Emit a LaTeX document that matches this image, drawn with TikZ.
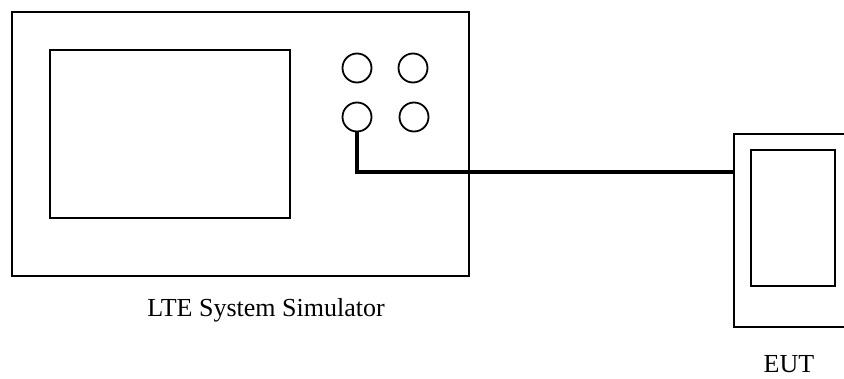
\documentclass[tikz,border=0pt]{standalone}
\usepackage{fontspec}
\setmainfont{Liberation Serif}

\tikzset{
  box/.style={draw, line width=2.2pt, inner sep=0pt},
  port/.style={draw, circle, line width=1.8pt, minimum size=29pt, inner sep=0pt},
  cable/.style={line width=3.8pt},
  lbl/.style={font=\fontsize{26}{30}\selectfont, inner sep=0pt}
}

\begin{document}
\begin{tikzpicture}[x=1pt, y=-1pt]
  \useasboundingbox (0, 0) rectangle (844, 378);
  % simulator
  \node[box, minimum width=457pt, minimum height=264pt] (sim) at (240.5, 144) {};
  \node[box, minimum width=240pt, minimum height=168pt] (screen) at (170, 134) {};
  \node[port] (p1) at (357, 68) {};
  \node[port] (p2) at (413, 68) {};
  \node[port] (p3) at (357, 117) {};
  \node[port] (p4) at (414, 117) {};
  \node[lbl] (simlabel) at (266, 310) {LTE System Simulator};
  % equipment under test
  \node[box, minimum width=130pt, minimum height=193pt] (eut) at (799, 230.5) {};
  \node[box, minimum width=84pt, minimum height=136pt] (eutscreen) at (793, 218) {};
  \node[lbl] (eutlabel) at (789, 364) {EUT};
  \coordinate (jack) at (eut.west |- 0, 172);
  \draw[cable] (p3.south) |- (jack);
\end{tikzpicture}
\end{document}
